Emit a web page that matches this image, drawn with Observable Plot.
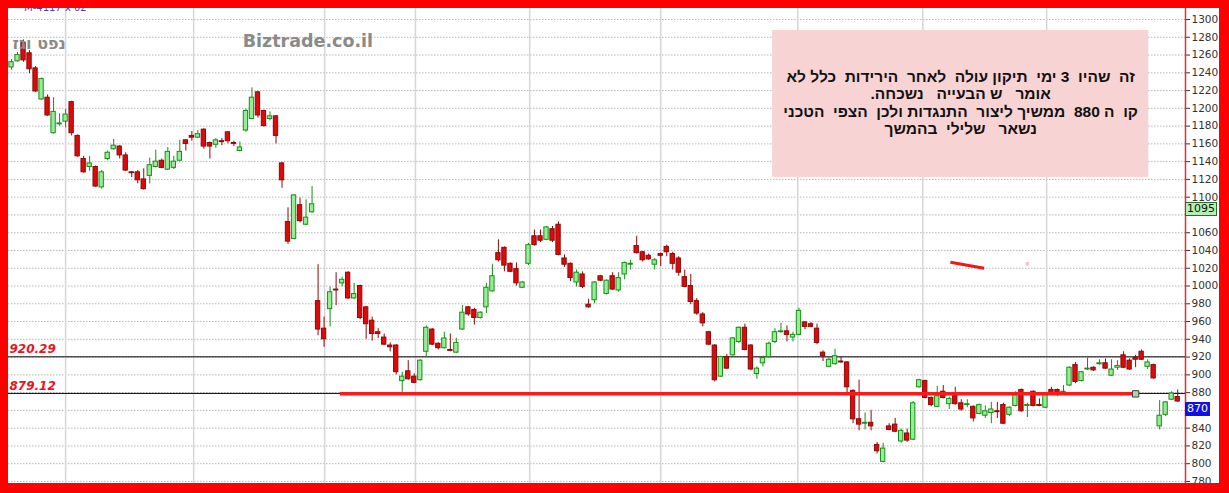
<!DOCTYPE html>
<html><head><meta charset="utf-8">
<script src="https://cdn.jsdelivr.net/npm/d3@7"></script>
<script src="https://cdn.jsdelivr.net/npm/@observablehq/plot@0.6"></script>
<style>
body{margin:0;background:#fff;}
#wrap{position:relative;width:1229px;height:493px;overflow:hidden;background:#fff;}
#wrap svg{position:absolute;left:0;top:0;}
.frame{position:absolute;background:#ff0000;}
.vlabel{position:absolute;font:11px "DejaVu Sans",sans-serif;line-height:12px;height:12px;padding:0 1px;box-sizing:content-box;}
</style></head><body>
<div id="wrap"></div>
<script>
// daily candles (index = trading day)
const opens  = [1246,1253,1274,1262,1245,1210,1212,1172,1182,1185,1207,1169,1143,1134,1134,1111,1143,1154,1157,1147,1128,1128,1120,1124,1134,1141,1131,1133,1141,1164,1169,1167,1176,1161,1159,1163,1173,1161,1152,1175,1188,1218,1197,1188,1191,1138,
1072,1053,1091,1069,1083,983,952,974,996,1003,1015,986,1000,976,961,948,942,933,933,893,904,898,894,926,951,935,930,928,925,951,976,973,964,976,994,1037,1043,
1025,1019,998,1025,1056,1056,1052,1064,1069,1031,1025,1004,1013,979,984,1011,991,1011,995,1013,1024,1045,1038,1034,1024,1036,1044,1036,1031,1010,1000,983,968,948,933,898,920,922,937,953,
933,901,913,920,937,948,949,942,945,959,957,952,925,909,912,915,914,882,850,845,846,821,802,842,844,825,834,827,886,893,874,864,881,867,876,868,866,864,856,854,
857,859,866,855,865,883,865,881,866,863,883,883,880,888,911,893,906,908,912,913,899,908,922,916,919,926,909,911,842,855,872,875];
const highs  = [1255,1263,1277,1265,1247,1234,1215,1212,1194,1199,1208,1170,1146,1146,1135,1130,1152,1165,1158,1150,1129,1130,1132,1144,1153,1143,1156,1146,1164,1165,1174,1175,1177,1162,1166,1166,1174,1163,1162,1199,1223,1219,1198,1196,1192,1139,
1088,1103,1099,1097,1112,1024,965,999,1015,1010,1016,1003,1001,977,965,952,946,936,934,903,916,901,917,955,952,936,948,946,941,978,977,975,971,1003,1024,1052,1044,
1026,1026,1005,1048,1063,1063,1067,1067,1072,1035,1026,1018,1016,985,1005,1012,1007,1015,1015,1027,1029,1056,1039,1036,1031,1037,1046,1038,1033,1018,1013,986,970,949,934,921,923,942,954,957,
934,909,921,937,952,958,955,948,975,960,959,957,927,919,929,920,915,883,894,857,860,824,823,845,851,839,839,870,895,894,875,887,888,875,886,872,872,865,867,865,
869,869,868,864,881,884,868,882,873,878,886,884,888,909,914,904,919,909,917,918,917,916,926,918,922,928,917,912,871,870,881,883];
const lows   = [1243,1252,1252,1239,1218,1209,1191,1171,1180,1178,1169,1145,1127,1129,1111,1109,1141,1153,1143,1129,1122,1115,1108,1115,1133,1132,1130,1131,1140,1152,1163,1166,1154,1143,1155,1158,1160,1157,1151,1173,1187,1189,1179,1186,1160,1110,
1047,1052,1071,1068,1082,944,931,954,978,999,985,985,962,940,938,941,933,926,900,879,894,890,893,920,933,928,929,926,924,950,966,956,963,969,993,1027,1016,
1015,1000,997,1023,1045,1049,1051,1049,1034,1021,1005,999,997,975,980,1005,990,995,993,1007,1018,1036,1027,1029,1018,1022,1033,1018,1011,998,979,967,954,933,892,897,906,921,935,927,
905,895,909,919,935,947,937,937,944,951,953,934,915,908,911,913,880,845,837,838,837,811,801,837,835,823,824,826,885,873,864,863,873,861,866,859,863,847,855,851,
845,851,844,853,864,858,852,864,864,862,877,876,879,887,890,892,905,904,911,906,898,905,907,905,908,916,906,895,838,853,871,869];
const closes = [1252,1260,1254,1244,1219,1233,1192,1196,1183,1193,1172,1146,1128,1138,1112,1128,1150,1158,1147,1130,1127,1119,1109,1136,1140,1133,1151,1140,1151,1160,1167,1171,1157,1157,1164,1162,1163,1160,1156,1197,1212,1192,1180,1191,1169,1119,
1050,1102,1073,1077,1092,951,940,993,995,1007,986,991,964,957,946,946,934,931,903,898,895,891,916,953,934,930,941,927,936,970,968,964,970,998,1011,1029,1023,
1016,1003,1004,1046,1046,1051,1066,1051,1035,1024,1009,1015,999,976,1004,1006,1006,996,1009,1026,1025,1037,1029,1030,1029,1034,1038,1025,1015,999,982,969,958,934,894,920,907,941,953,928,
906,907,919,935,948,949,945,945,972,954,954,936,921,917,921,914,886,850,844,846,842,814,817,838,836,837,826,868,894,874,866,876,874,873,867,861,867,851,866,859,
861,858,845,863,877,859,866,865,865,877,878,878,881,908,892,903,907,905,913,907,906,910,908,906,917,917,914,896,854,869,879,870];

const yTicks = [780,800,820,840,860,880,900,920,940,960,980,1000,1020,1040,1060,1080,1100,1120,1140,1160,1180,1200,1220,1240,1260,1280,1300];
const hiddenTickLabels = [860, 1080]; // covered by the value boxes in the picture
const monthBreaks = [9, 30.3, 52.1, 67.2, 86.2, 108, 130.8, 151.6, 172.2];
const levelValues = [920.29, 879.12];
const levelLabels = ["920.29", "879.12"];
const levelLabelY = [928.6, 886.9];
const supportLine = [{x1: 54.7, x2: 187, y: 878.6}];
const trendStroke = [{x1: 156.2, y1: 1026.8, x2: 161.8, y2: 1020}];
const noteLines = [
  "זה  שהיו  3 ימי  תיקון עולה  לאחר  הירידות  כלל לא",
  "אומר   ש הבעייה   נשכחה.",
  "קו  ה 880  ממשיך ליצור  התנגדות ולכן  הצפי  הטכני",
  "נשאר   שלילי  בהמשך"
];
const noteLineY = [1235.5, 1216.3, 1195.8, 1177.0];
const noteBox = [{x1: 126.6, x2: 189.2, y1: 1122.2, y2: 1287.6}];
const lastClose = 870;
const sideValue = 1095;

const xDomain = [-0.5, 195.3];
const candles = opens.map((o, i) => ({i, o, h: highs[i], l: lows[i], c: closes[i], up: closes[i] >= o}));

const chart = Plot.plot({
  width: 1229, height: 493,
  marginLeft: 8, marginRight: 44, marginTop: 8, marginBottom: 10,
  style: {fontFamily: "DejaVu Sans, sans-serif", fontSize: "10.5px", color: "#333", background: "#fff"},
  x: {domain: xDomain, axis: null},
  y: {domain: [777.7, 1312.4], axis: "right", ticks: yTicks, tickSize: 4, tickPadding: 2,
      tickFormat: d => hiddenTickLabels.includes(d) ? "" : String(d), label: null},
  marks: [
    Plot.ruleY(yTicks, {stroke: "#b8b8b8", strokeDasharray: "1.5,1.5"}),
    Plot.ruleX(monthBreaks, {stroke: "#d6d6d6", strokeWidth: 1.5}),
    Plot.ruleY(levelValues, {stroke: "#000", strokeWidth: 1}),
    Plot.text(levelLabels, {x: xDomain[0], y: (d, i) => levelLabelY[i], text: d => d, dx: 1, textAnchor: "start", fill: "#e8141e", fontSize: 12, fontWeight: "bold", fontStyle: "italic", fontFamily: "DejaVu Sans"}),
    Plot.ruleX(candles, {x: "i", y1: "l", y2: "h", stroke: d => d.up ? "#169016" : "#8c0a0a", strokeWidth: 1}),
    Plot.rect(candles, {x1: d => d.i - 0.36, x2: d => d.i + 0.36, y1: "o", y2: "c", fill: d => d.up ? "#98ec98" : "#dc0a0a", stroke: d => d.up ? "#169016" : "#8c0a0a", strokeWidth: 1}),
    Plot.ruleY(supportLine, {x1: "x1", x2: "x2", y: "y", stroke: "#ff1a1a", strokeWidth: 3.5}),
    Plot.dot(supportLine, {x: "x2", y: "y", symbol: "square", r: 3.6, fill: "#a8d8a0", stroke: "#404040", strokeWidth: 1}),
    Plot.link(trendStroke, {x1: "x1", y1: "y1", x2: "x2", y2: "y2", stroke: "#f01818", strokeWidth: 3}),
    Plot.dot([{x: 169, y: 1025}], {x: "x", y: "y", symbol: "square", r: 2, fill: "#f5c4c8"}),
    Plot.rect(noteBox, {x1: "x1", x2: "x2", y1: "y1", y2: "y2", fill: "#f8d3d3"}),
    Plot.text(noteLines, {x: (noteBox[0].x1 + noteBox[0].x2) / 2, y: (d, i) => noteLineY[i], text: d => d, textAnchor: "middle", fill: "#111", fontSize: 15.5, fontWeight: "bold", fontFamily: "Liberation Sans"}),
    Plot.text(["Biztrade.co.il"], {x: 49.3, y: 1275.2, text: d => d, textAnchor: "middle", fill: "#8a8a8a", fontSize: 17.5, fontWeight: "bold", fontFamily: "DejaVu Sans"}),
    Plot.text(["נפט וגז"], {x: 4.6, y: 1273, text: d => d, textAnchor: "middle", fill: "#8a8a8a", fontSize: 16, fontWeight: "bold", fontFamily: "DejaVu Sans"}),
    Plot.text(["M-4117 x 02"], {x: 7.3, y: 1313.5, text: d => d, textAnchor: "middle", fill: "#4a3cc8", fontSize: 10, fontFamily: "DejaVu Sans"}),
    Plot.ruleX([xDomain[1]], {stroke: "#e03030", strokeWidth: 1.5})
  ]
});

// right-to-left direction for Hebrew texts
d3.select(chart).selectAll("text").filter(function() { return /[\u0590-\u05FF]/.test(this.textContent); })
  .attr("direction", "rtl").style("unicode-bidi", "embed");

const wrap = document.getElementById("wrap");
wrap.appendChild(chart);
const ys = chart.scale("y");
function addLabel(v, bg, fg, border) {
  const d = document.createElement("div");
  d.className = "vlabel";
  d.textContent = String(v);
  d.style.left = "1185px";
  d.style.top = (ys.apply(v) + 1) + "px";
  d.style.background = bg; d.style.color = fg;
  d.style.border = border;
  wrap.appendChild(d);
}
addLabel(sideValue, "#b4f0b4", "#111", "1px solid #2a6a2a");
addLabel(lastClose, "#1010e8", "#fff", "1px solid #1010e8");
[["0px","0px","8px","493px"],["0px","0px","1229px","8px"],["1219px","0px","10px","493px"],["0px","483px","1229px","10px"]].forEach(([l,t,w,h]) => {
  const f = document.createElement("div"); f.className = "frame";
  Object.assign(f.style, {left: l, top: t, width: w, height: h});
  wrap.appendChild(f);
});
</script>
</body></html>
